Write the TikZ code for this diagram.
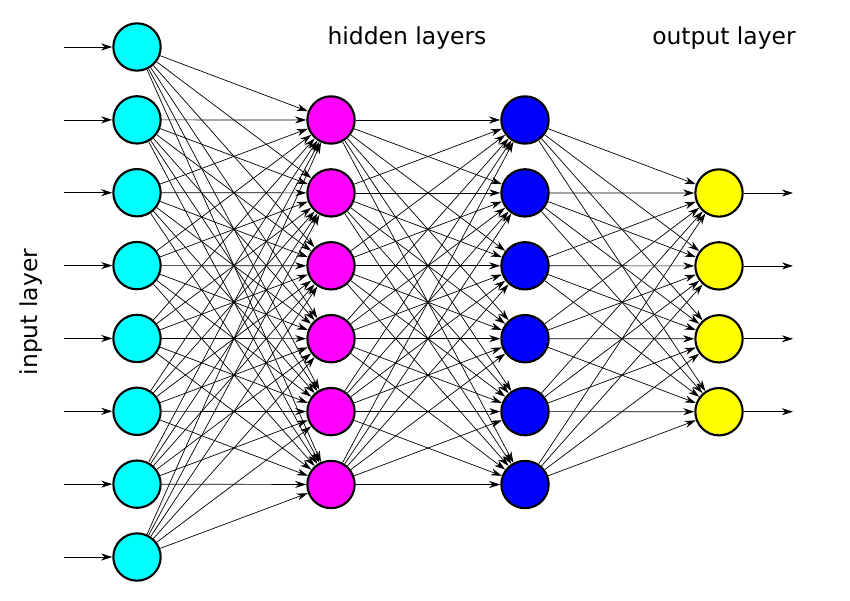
\documentclass[tikz,border=0pt]{standalone}
\usepackage{fontspec}
\setmainfont{DejaVu Sans}
\usetikzlibrary{arrows.meta}

\definecolor{incol}{RGB}{0,255,255}
\definecolor{hacol}{RGB}{255,0,255}
\definecolor{hbcol}{RGB}{0,0,255}
\definecolor{outcol}{RGB}{255,255,0}

\tikzset{
    neuron/.style={circle,draw=black,line width=1.8pt,minimum size=1.42cm,inner sep=0pt},
    conn/.style={-{Stealth[length=9.5pt,width=6pt]},line width=0.6pt},
    lbl/.style={font=\fontsize{20}{24}\selectfont}
}

\begin{document}
\begin{tikzpicture}[x=0.03cm,y=-0.03cm]
    \useasboundingbox (0,0) rectangle (850,601);

    % Layers
    \foreach \i in {1,...,8}
        \node[neuron,fill=incol] (in\i) at (137,{47+72.86*(\i-1)}) {};
    \foreach \i in {1,...,6} {
        \node[neuron,fill=hacol] (ha\i) at (331,{120+72.9*(\i-1)}) {};
        \node[neuron,fill=hbcol] (hb\i) at (525,{120+72.9*(\i-1)}) {};
    }
    \foreach \i in {1,...,4}
        \node[neuron,fill=outcol] (out\i) at (719,{193+72.9*(\i-1)}) {};

    % Inputs and outputs
    \foreach \i in {1,...,8} {
        \coordinate (src\i) at (64,{47+72.86*(\i-1)});
        \draw[conn] (src\i) -- (in\i);
    }
    \foreach \i in {1,...,4} {
        \coordinate (dst\i) at (793,{193+72.9*(\i-1)});
        \draw[conn] (out\i) -- (dst\i);
    }

    % Connections
    \foreach \i in {1,...,8}
        \foreach \j in {1,...,6}
            \draw[conn] (in\i) -- (ha\j);
    \foreach \i in {1,...,6}
        \foreach \j in {1,...,6}
            \draw[conn] (ha\i) -- (hb\j);
    \foreach \i in {1,...,6}
        \foreach \j in {1,...,4}
            \draw[conn] (hb\i) -- (out\j);

    % Labels
    \node[lbl] (hidlbl) at (407,38) {hidden layers};
    \node[lbl] (outlbl) at (724,38) {output layer};
    \node[lbl,rotate=90] (inlbl) at (31,312) {input layer};
\end{tikzpicture}
\end{document}
